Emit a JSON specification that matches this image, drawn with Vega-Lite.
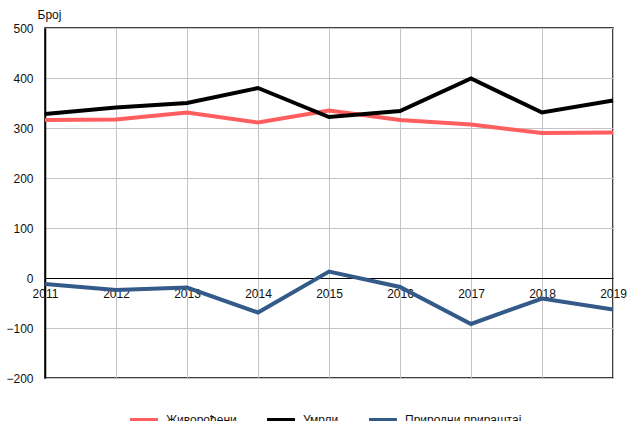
{
  "$schema": "https://vega.github.io/schema/vega-lite/v6.json",
  "width": 568,
  "height": 350,
  "autosize": {"type": "none"},
  "padding": {"left": 45, "top": 28, "right": 16, "bottom": 43},
  "background": "white",
  "config": {
    "font": "Liberation Sans",
    "view": {"stroke": "#000", "strokeWidth": 1.5},
    "axis": {"labelFont": "Liberation Sans", "labelFontSize": 12, "labelColor": "#111", "titleFont": "Liberation Sans"}
  },
  "data": {
    "values": [
      {"year": "2011", "series": "Живорођени", "value": 316},
      {"year": "2012", "series": "Живорођени", "value": 317},
      {"year": "2013", "series": "Живорођени", "value": 331},
      {"year": "2014", "series": "Живорођени", "value": 311},
      {"year": "2015", "series": "Живорођени", "value": 335},
      {"year": "2016", "series": "Живорођени", "value": 316},
      {"year": "2017", "series": "Живорођени", "value": 307},
      {"year": "2018", "series": "Живорођени", "value": 290},
      {"year": "2019", "series": "Живорођени", "value": 291},
      {"year": "2011", "series": "Умрли", "value": 328},
      {"year": "2012", "series": "Умрли", "value": 341},
      {"year": "2013", "series": "Умрли", "value": 350},
      {"year": "2014", "series": "Умрли", "value": 380},
      {"year": "2015", "series": "Умрли", "value": 322},
      {"year": "2016", "series": "Умрли", "value": 334},
      {"year": "2017", "series": "Умрли", "value": 399},
      {"year": "2018", "series": "Умрли", "value": 331},
      {"year": "2019", "series": "Умрли", "value": 355},
      {"year": "2011", "series": "Природни прираштај", "value": -12},
      {"year": "2012", "series": "Природни прираштај", "value": -24},
      {"year": "2013", "series": "Природни прираштај", "value": -19},
      {"year": "2014", "series": "Природни прираштај", "value": -69},
      {"year": "2015", "series": "Природни прираштај", "value": 13},
      {"year": "2016", "series": "Природни прираштај", "value": -18},
      {"year": "2017", "series": "Природни прираштај", "value": -92},
      {"year": "2018", "series": "Природни прираштај", "value": -41},
      {"year": "2019", "series": "Природни прираштај", "value": -63}
    ]
  },
  "mark": {"type": "line", "strokeWidth": 4, "strokeJoin": "miter", "clip": false},
  "encoding": {
    "x": {
      "field": "year",
      "type": "ordinal",
      "scale": {"type": "point", "padding": 0},
      "axis": {
        "title": null,
        "labelAngle": 0,
        "ticks": false,
        "offset": -100,
        "domainColor": "#000",
        "domainWidth": 1.2,
        "labelPadding": 10,
        "grid": true,
        "gridColor": "#c4c4c4",
        "gridWidth": 1
      }
    },
    "y": {
      "field": "value",
      "type": "quantitative",
      "scale": {"domain": [-200, 500], "nice": false},
      "axis": {
        "values": [-200, -100, 0, 100, 200, 300, 400, 500],
        "title": "Број",
        "titleAngle": 0,
        "titleAlign": "left",
        "titleBaseline": "alphabetic",
        "titleX": -8,
        "titleY": -10,
        "titleFontSize": 12,
        "titleFontWeight": "normal",
        "titleColor": "#111",
        "ticks": false,
        "labelPadding": 12,
        "domainColor": "#000",
        "domainWidth": 1.5,
        "gridColor": "#c4c4c4",
        "gridWidth": 1
      }
    },
    "color": {
      "field": "series",
      "type": "nominal",
      "sort": ["Живорођени", "Умрли", "Природни прираштај"],
      "scale": {
        "domain": ["Живорођени", "Умрли", "Природни прираштај"],
        "range": ["#ff5e5e", "#000000", "#335a88"]
      },
      "legend": {
        "title": null,
        "orient": "none",
        "direction": "horizontal",
        "legendX": 83,
        "legendY": 376,
        "symbolType": "stroke",
        "symbolSize": 780,
        "symbolStrokeWidth": 4,
        "labelFontSize": 12,
        "labelFont": "Liberation Sans",
        "labelColor": "#111",
        "labelOffset": 6,
        "columnPadding": 22
      }
    }
  }
}
